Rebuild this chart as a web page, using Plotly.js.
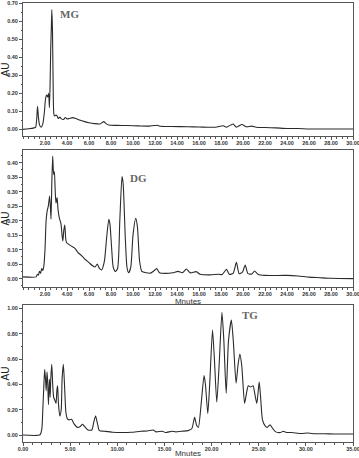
<!DOCTYPE html>
<html><head><meta charset="utf-8">
<script src="https://cdn.plot.ly/plotly-3.0.1.min.js"></script>
<style>html,body{margin:0;padding:0;background:#fff}#chart{width:359px;height:458px}</style>
</head><body><div id="chart"></div>
<script>
// ---- Data ----
const mgTime = [0,0.5,1.0,1.15,1.25,1.32,1.40,1.5,1.65,1.8,1.95,2.05,2.15,2.25,2.33,2.4,2.46,2.52,2.57,2.62,2.68,2.74,2.82,2.9,3.0,3.1,3.2,3.35,3.5,3.7,3.85,4.0,4.2,4.5,4.8,5.2,5.6,6.0,6.5,7.0,7.2,7.35,7.55,7.8,8.5,9.5,10.5,11.5,12.0,12.2,12.5,13.5,15,16,17.5,18.2,18.5,19.1,19.4,19.9,20.3,20.8,21.2,22,23,24,25,26,28,30];
const mgAU   = [0,0.003,0.008,0.012,0.06,0.128,0.07,0.025,0.012,0.03,0.10,0.17,0.19,0.18,0.20,0.12,0.24,0.45,0.55,0.665,0.55,0.25,0.08,0.075,0.08,0.075,0.06,0.068,0.058,0.055,0.066,0.058,0.06,0.065,0.06,0.05,0.043,0.037,0.032,0.03,0.038,0.043,0.032,0.024,0.022,0.021,0.019,0.018,0.021,0.023,0.017,0.016,0.014,0.013,0.012,0.02,0.012,0.03,0.012,0.027,0.014,0.018,0.012,0.01,0.008,0.005,0.005,0.002,0.002,0.002];

const dgTime = [0,1.2,1.3,1.4,1.5,1.6,1.7,1.8,1.9,2.0,2.1,2.2,2.3,2.42,2.5,2.55,2.62,2.7,2.78,2.85,2.93,3.0,3.1,3.18,3.3,3.45,3.55,3.62,3.72,3.8,3.88,3.95,4.1,4.4,4.7,5.0,5.3,5.6,6.0,6.3,6.55,6.75,6.95,7.15,7.4,7.6,7.8,7.9,8.05,8.2,8.4,8.6,8.8,9.0,9.1,9.3,9.45,9.6,9.8,10.0,10.25,10.4,10.6,10.8,11.2,11.6,12.0,12.15,12.4,13.0,13.6,14.1,14.5,14.85,15.2,15.75,16.1,17,17.8,18.1,18.5,18.75,19.1,19.4,19.65,19.95,20.2,20.45,20.8,21.05,21.4,22,24,25,26,27,28,30];
const dgAU   = [0.006,0.006,0.015,0.012,0.025,0.018,0.035,0.028,0.045,0.10,0.20,0.235,0.25,0.285,0.24,0.205,0.33,0.423,0.36,0.37,0.30,0.26,0.28,0.24,0.21,0.19,0.15,0.13,0.17,0.185,0.14,0.125,0.12,0.112,0.105,0.09,0.08,0.068,0.055,0.045,0.04,0.05,0.035,0.03,0.06,0.14,0.205,0.19,0.11,0.04,0.025,0.035,0.2,0.352,0.33,0.14,0.04,0.02,0.04,0.15,0.208,0.18,0.06,0.025,0.02,0.019,0.03,0.035,0.02,0.018,0.02,0.025,0.02,0.033,0.02,0.024,0.015,0.013,0.015,0.014,0.032,0.015,0.018,0.056,0.017,0.022,0.047,0.017,0.016,0.026,0.014,0.011,0.011,0.009,0.005,0.003,0.001,0.0];

const tgTime = [0,1.8,2.0,2.1,2.2,2.3,2.38,2.46,2.55,2.62,2.7,2.8,2.88,2.95,3.05,3.15,3.25,3.4,3.5,3.6,3.67,3.75,3.9,4.05,4.15,4.28,4.4,4.55,4.7,4.9,5.15,5.4,5.8,6.1,6.3,6.5,6.9,7.3,7.5,7.7,7.9,8.1,8.6,9.5,10.5,11.5,12.5,13.2,13.8,14.1,14.8,15.1,15.8,16.2,16.8,17.5,17.9,18.2,18.4,18.6,18.9,19.2,19.35,19.6,19.8,20.1,20.3,20.55,20.8,21.1,21.3,21.55,21.8,22.1,22.3,22.6,22.8,23.0,23.2,23.5,23.7,23.9,24.15,24.4,24.6,24.8,25.05,25.2,25.4,25.7,25.9,26.2,26.5,26.8,27.3,27.6,28.0,28.5,29.5,30.2,31,32,33,35];
const tgAU   = [0.0,0.002,0.05,0.2,0.37,0.52,0.45,0.35,0.5,0.42,0.24,0.44,0.30,0.45,0.56,0.40,0.30,0.27,0.25,0.36,0.39,0.26,0.15,0.2,0.45,0.56,0.40,0.18,0.13,0.12,0.125,0.09,0.06,0.07,0.085,0.07,0.04,0.04,0.10,0.15,0.09,0.035,0.03,0.022,0.02,0.022,0.03,0.032,0.04,0.025,0.03,0.02,0.03,0.025,0.03,0.035,0.05,0.14,0.08,0.06,0.25,0.47,0.40,0.17,0.40,0.83,0.60,0.26,0.55,0.97,0.75,0.33,0.75,0.91,0.75,0.41,0.55,0.64,0.55,0.25,0.33,0.39,0.38,0.39,0.32,0.25,0.42,0.30,0.12,0.07,0.06,0.08,0.05,0.025,0.02,0.03,0.02,0.02,0.012,0.016,0.01,0.01,0.008,0.008];

const xTicksA = [2,4,6,8,10,12,14,16,18,20,22,24,26,28,30];
const xTicksB = [0,5,10,15,20,25,30,35];
const yTicksMG = [0,0.1,0.2,0.3,0.4,0.5,0.6,0.7];
const yTicksDG = [0,0.05,0.1,0.15,0.2,0.25,0.3,0.35,0.4];
const yTicksTG = [0,0.2,0.4,0.6,0.8,1.0];
const panelLabels = ['MG','DG','TG'];
const yTitle = 'AU';
const xTitle = 'Mnutes';

// ---- Styling ----
const lineCol = '#555';
const traceCol = '#2b2b2b';
const tickFont = {family:'Liberation Sans, Arial, sans-serif', size:5.5, color:'#333', weight:'bold'};
const W = 359, H = 458;
const xDom = [23/W, 353/W];
function yDom(top, bottom){ return [1-bottom/H, 1-top/H]; }

function xAxis(anchor, range, tickvals, minorD, title){
  const a = {anchor:anchor, domain:xDom, range:range, tickmode:'array', tickvals:tickvals,
    tickformat:'.2f', ticks:'outside', ticklen:3, tickwidth:1, tickcolor:lineCol,
    ticklabelstandoff:-2, ticklabeloverflow:'allow',
    showline:true, linecolor:lineCol, linewidth:1, mirror:true, showgrid:false, zeroline:false,
    tickfont:tickFont, minor:{ticks:'outside', ticklen:1.5, tickcolor:lineCol, dtick:minorD, showgrid:false}};
  if (title) a.title = {text:title, font:{family:'Liberation Sans, Arial, sans-serif', size:8, color:'#333'}, standoff:1};
  return a;
}
function yAxis(anchor, dom, range, tickvals, minorD){
  return {anchor:anchor, domain:dom, range:range, tickmode:'array', tickvals:tickvals,
    tickformat:'.2f', ticks:'outside', ticklen:3, tickwidth:1, tickcolor:lineCol,
    ticklabeloverflow:'allow',
    showline:true, linecolor:lineCol, linewidth:1, mirror:true, showgrid:false, zeroline:false,
    tickfont:tickFont, minor:{ticks:'outside', ticklen:1.5, tickcolor:lineCol, dtick:minorD, showgrid:false},
    title:{text:yTitle, font:{family:'Liberation Sans, Arial, sans-serif', size:10, color:'#222'}, standoff:2}};
}

const trace = (x,y,xa,ya) => ({x:x, y:y, xaxis:xa, yaxis:ya, type:'scatter', mode:'lines',
  line:{color:traceCol, width:1.1, shape:'spline', smoothing:0.6}, hoverinfo:'skip'});

const data = [
  trace(mgTime, mgAU, 'x', 'y'),
  trace(dgTime, dgAU, 'x2', 'y2'),
  trace(tgTime, tgAU, 'x3', 'y3')
];

const lblFont = {family:'Liberation Serif, Times New Roman, serif', size:11, color:'#666', weight:'bold'};
const layout = {
  width:W, height:H, margin:{l:0,r:0,t:0,b:0}, showlegend:false,
  paper_bgcolor:'#fff', plot_bgcolor:'#fff',
  xaxis: xAxis('y', [0,30], xTicksA, 0.5, null),
  yaxis: yAxis('x', yDom(3,136), [-0.037,0.702], yTicksMG, 0.05),
  xaxis2: xAxis('y2', [0,30], xTicksA, 0.5, xTitle),
  yaxis2: yAxis('x2', yDom(150,287), [-0.029,0.444], yTicksDG, 0.025),
  xaxis3: xAxis('y3', [0,35], xTicksB, 1, xTitle),
  yaxis3: yAxis('x3', yDom(305,442), [-0.055,1.028], yTicksTG, 0.1),
  annotations:[
    {text:panelLabels[0], xref:'x', yref:'y', x:4.2, y:0.64, showarrow:false, font:lblFont},
    {text:panelLabels[1], xref:'x2', yref:'y2', x:10.5, y:0.347, showarrow:false, font:lblFont},
    {text:panelLabels[2], xref:'x3', yref:'y3', x:24.1, y:0.95, showarrow:false, font:lblFont}
  ]
};
Plotly.newPlot('chart', data, layout, {staticPlot:true, displayModeBar:false});
</script>
</body></html>
